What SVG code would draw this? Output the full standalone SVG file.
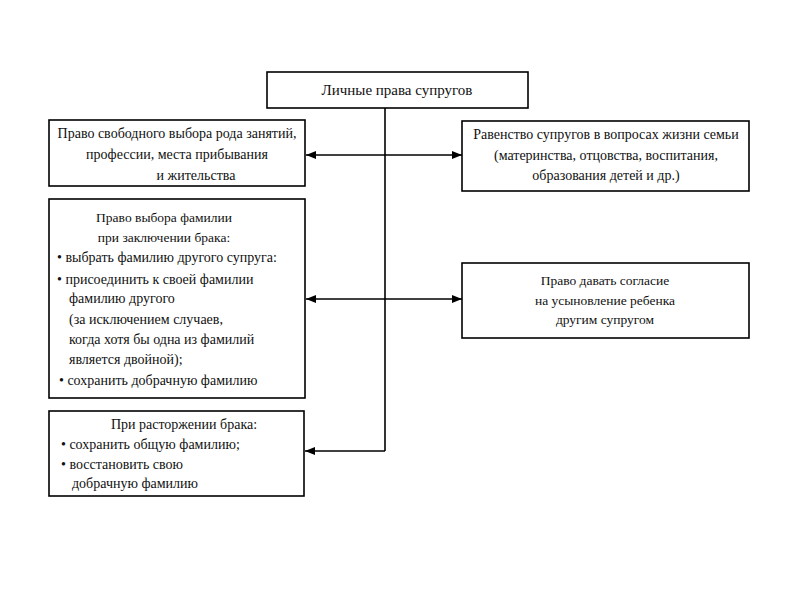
<svg xmlns="http://www.w3.org/2000/svg" width="800" height="600" viewBox="0 0 800 600">
<style>
.box{fill:#fff;stroke:#000;stroke-width:1.6}
.t{font-family:"Liberation Serif","Times New Roman",serif;font-size:13px;fill:#111}
.c{text-anchor:middle}
.s14{font-size:14px}
.s135{font-size:13.5px}
.s15{font-size:15px}
.ln{stroke:#000;stroke-width:1.6;fill:none}
</style>
<defs>
<marker id="ah" viewBox="0 0 10 8" refX="10" refY="4" markerWidth="10" markerHeight="8" markerUnits="userSpaceOnUse" orient="auto-start-reverse">
<path d="M0,0 L10,4 L0,8 Z" fill="#000"/>
</marker>
</defs>
<rect width="800" height="600" fill="#fff"/>
<g id="connectors">
<line class="ln" x1="385" y1="108" x2="385" y2="451"/>
<line class="ln" x1="306" y1="155" x2="462" y2="155" marker-start="url(#ah)" marker-end="url(#ah)"/>
<line class="ln" x1="306" y1="299" x2="462" y2="299" marker-start="url(#ah)" marker-end="url(#ah)"/>
<line class="ln" x1="385" y1="451" x2="305" y2="451" marker-end="url(#ah)"/>
</g>
<g id="root">
<rect class="box" x="267" y="72" width="261" height="36"/>
<text class="t c s15" x="397" y="95">Личные права супругов</text>
</g>
<g id="left1">
<rect class="box" x="49" y="120" width="256" height="66"/>
<text class="t c s14" x="177" y="138">Право свободного выбора рода занятий,</text>
<text class="t c s14" x="177" y="159">профессии, места прибывания</text>
<text class="t c s14" x="196" y="180">и жительства</text>
</g>
<g id="right1">
<rect class="box" x="462" y="121" width="287" height="70"/>
<text class="t c s14" x="606" y="139">Равенство супругов в вопросах жизни семьи</text>
<text class="t c s14" x="606" y="160">(материнства, отцовства, воспитания,</text>
<text class="t c s14" x="606" y="180">образования детей и др.)</text>
</g>
<g id="left2">
<rect class="box" x="49" y="199" width="256" height="199"/>
<text class="t c s135" x="164" y="222">Право выбора фамилии</text>
<text class="t c s135" x="164" y="242">при заключении брака:</text>
<text class="t s14" x="57" y="262">• выбрать фамилию другого супруга:</text>
<text class="t s14" x="57" y="284">• присоединить к своей фамилии</text>
<text class="t s14" x="69" y="303">фамилию другого</text>
<text class="t s14" x="69" y="324">(за исключением случаев,</text>
<text class="t s14" x="69" y="344">когда хотя бы одна из фамилий</text>
<text class="t s14" x="69" y="364">является двойной);</text>
<text class="t s14" x="59" y="385">• сохранить добрачную фамилию</text>
</g>
<g id="right2">
<rect class="box" x="462" y="263" width="287" height="75"/>
<text class="t c s135" x="605" y="285">Право давать согласие</text>
<text class="t c s135" x="605" y="305">на усыновление ребенка</text>
<text class="t c s135" x="605" y="324">другим супругом</text>
</g>
<g id="left3">
<rect class="box" x="49" y="411" width="255" height="85"/>
<text class="t c s14" x="184" y="429">При расторжении брака:</text>
<text class="t s14" x="61" y="449">•  сохранить общую фамилию;</text>
<text class="t s14" x="61" y="469">•  восстановить свою</text>
<text class="t s14" x="72" y="488">добрачную фамилию</text>
</g>
</svg>
